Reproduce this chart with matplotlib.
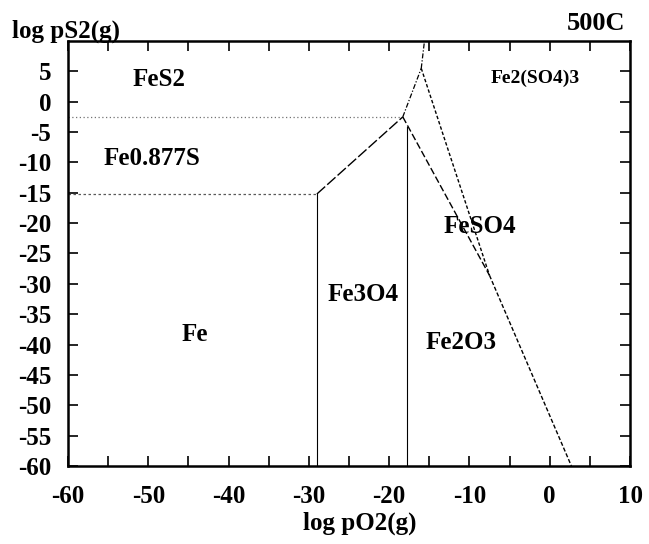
import matplotlib.pyplot as plt
from matplotlib.ticker import MultipleLocator

plt.rcParams['font.family'] = ['Liberation Serif', 'DejaVu Serif']
plt.rcParams['font.weight'] = 'bold'
plt.rcParams['axes.unicode_minus'] = False

# phase boundaries, log pO2 vs log pS2 at 500C
fes2_fe0877s_x = [-60, -18.3]
fes2_fe0877s_y = [-2.5, -2.5]
fe0877s_fe_x = [-60, -29.0]
fe0877s_fe_y = [-15.2, -15.2]
fe_fe3o4_x = [-29.0, -29.0]
fe_fe3o4_y = [-15.2, -60]
fe0877s_fe3o4_x = [-29.0, -18.3]
fe0877s_fe3o4_y = [-15.2, -2.5]
fe3o4_fe2o3_x = [-17.8, -17.8]
fe3o4_fe2o3_y = [-4.1, -60]
feso4_low_x = [-18.3, -7.5]
feso4_low_y = [-2.5, -28.6]
fes2_feso4_x = [-18.3, -16.0]
fes2_feso4_y = [-2.5, 5.5]
fes2_fe2so43_x = [-16.0, -15.6]
fes2_fe2so43_y = [5.5, 10]
feso4_fe2so43_x = [-16.0, -7.5]
feso4_fe2so43_y = [5.5, -28.6]
fe2o3_fe2so43_x = [-7.5, 2.7]
fe2o3_fe2so43_y = [-28.6, -60]

phase_names = ['FeS2', 'Fe0.877S', 'Fe', 'Fe3O4', 'Fe2O3', 'FeSO4', 'Fe2(SO4)3']
phase_x = [-48.7, -49.5, -44.2, -23.2, -11.1, -8.7, -1.8]
phase_y = [3.7, -9.3, -38.3, -31.8, -39.7, -20.5, 3.9]
phase_size = [18, 18, 18, 18, 18, 18, 14]

fig = plt.figure(figsize=(6.49, 5.44), dpi=100)
ax = fig.add_axes([68/649, 1 - 466/544, 562/649, 425/544])

ax.plot(fes2_fe0877s_x, fes2_fe0877s_y, color='0.45', lw=0.9, ls=(0, (1, 2)))
ax.plot(fe0877s_fe_x, fe0877s_fe_y, color='0.35', lw=0.9, ls=(0, (2, 2)))
ax.plot(fe_fe3o4_x, fe_fe3o4_y, color='black', lw=0.8)
ax.plot(fe0877s_fe3o4_x, fe0877s_fe3o4_y, color='black', lw=1.0, ls=(0, (8, 2)))
ax.plot(fe3o4_fe2o3_x, fe3o4_fe2o3_y, color='black', lw=0.8)
ax.plot(feso4_low_x, feso4_low_y, color='black', lw=1.0, ls=(0, (5, 2)))
ax.plot(fes2_feso4_x, fes2_feso4_y, color='black', lw=0.9, ls=(0, (4, 1.5, 1, 1.5)))
ax.plot(fes2_fe2so43_x, fes2_fe2so43_y, color='black', lw=0.9, ls=(0, (4, 1.5, 1, 1.5)))
ax.plot(feso4_fe2so43_x, feso4_fe2so43_y, color='black', lw=1.0, ls=(0, (2.5, 1.5)))
ax.plot(fe2o3_fe2so43_x, fe2o3_fe2so43_y, color='black', lw=1.0, ls=(0, (3, 1.5)))

for name, x, y, s in zip(phase_names, phase_x, phase_y, phase_size):
    ax.text(x, y, name, ha='center', va='center', fontsize=s, fontweight='bold')

ax.set_xlim(-60, 10)
ax.set_ylim(-60, 10)
ax.xaxis.set_major_locator(MultipleLocator(10))
ax.xaxis.set_minor_locator(MultipleLocator(5))
ax.set_yticks(range(-60, 10, 5))
ax.tick_params(which='both', direction='in', top=True, right=True,
               length=7, width=1.2)
ax.tick_params(axis='x', which='major', labelsize=18, pad=14)
ax.tick_params(axis='y', labelsize=18, pad=12)
for sp in ax.spines.values():
    sp.set_linewidth(1.8)

fig.text(12/649, 1 - 38/544, 'log pS2(g)', fontsize=18, fontweight='bold',
         ha='left', va='baseline')
fig.text(625/649, 1 - 30/544, '500C', fontsize=19, fontweight='bold',
         ha='right', va='baseline')
fig.text(360/649, 1 - 530/544, 'log pO2(g)', fontsize=18, fontweight='bold',
         ha='center', va='baseline')

fig.savefig('out.png', dpi=100)
